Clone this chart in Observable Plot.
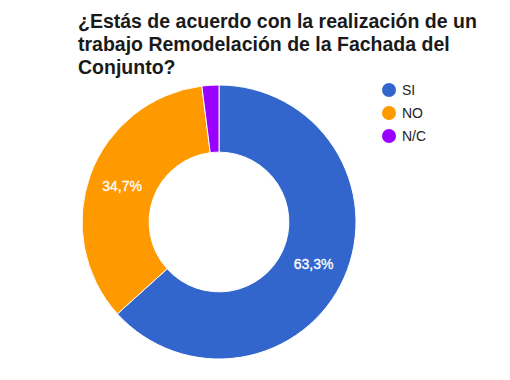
<!DOCTYPE html>
<html>
<head>
<meta charset="utf-8">
<script src="https://cdn.jsdelivr.net/npm/d3@7"></script>
<script src="https://cdn.jsdelivr.net/npm/@observablehq/plot@0.6"></script>
<style>
  body { margin: 0; background: #fff; }
  #wrap { position: relative; width: 510px; height: 380px; overflow: hidden; font-family: "Liberation Sans", Arial, sans-serif; }
  #title { position: absolute; left: 78px; top: 10px; font-weight: bold; font-size: 19.5px; line-height: 23px; color: #1a1a1a; white-space: nowrap; }
  #chart { position: absolute; left: 0; top: 75px; }
  #legend { position: absolute; left: 382px; top: 78px; font-size: 14px; color: #222; }
  .item { display: flex; align-items: center; height: 23px; }
  .sw { width: 14px; height: 14px; border-radius: 50%; margin-right: 6px; }
</style>
</head>
<body>
<div id="wrap">
  <div id="title">¿Estás de acuerdo con la realización de un<br>trabajo Remodelación de la Fachada del<br>Conjunto?</div>
  <div id="chart"></div>
  <div id="legend"></div>
</div>
<script>
const categories = ["SI", "NO", "N/C"];
const values = [63.3, 34.7, 2.0];
const colors = ["#3366cc", "#ff9900", "#9900ff"];

const data = categories.map((c, i) => ({category: c, value: values[i]}));
const arcs = d3.pie().sort(null).value(d => d.value)(data);
const innerFrac = 0.51;

const fmt = v => d3.format(".1f")(v).replace(".", ",") + "%";

function renderDonut(index, scales, values_, dimensions, context) {
  const cx = scales.x(0), cy = scales.y(0);
  const R = scales.x(1) - scales.x(0);
  const arcGen = d3.arc().innerRadius(R * innerFrac).outerRadius(R);
  const sel = Array.from(index, i => arcs[i]);
  const g = d3.create("svg:g").attr("transform", `translate(${cx},${cy})`);
  g.selectAll("path").data(sel).join("path")
    .attr("d", arcGen)
    .attr("fill", d => scales.color(d.data.category))
    .attr("stroke", "#fff")
    .attr("stroke-width", 1);
  g.selectAll("text").data(sel.filter(d => d.data.value >= 5)).join("text")
    .attr("transform", d => `translate(${arcGen.centroid(d)})`)
    .attr("text-anchor", "middle")
    .attr("dy", "0.35em")
    .attr("fill", "#fff")
    .attr("font-size", 14)
    .attr("stroke", "#fff")
    .attr("stroke-width", 0.3)
    .attr("font-family", "Liberation Sans, Arial, sans-serif")
    .text(d => fmt(d.data.value));
  return g.node();
}

const cxPx = 219, cyPx = 147, Rpx = 137;
const plot = Plot.plot({
  width: 510,
  height: 305,
  margin: 0,
  x: {domain: [-1, 1], range: [cxPx - Rpx, cxPx + Rpx], axis: null},
  y: {domain: [-1, 1], range: [cyPx + Rpx, cyPx - Rpx], axis: null},
  color: {domain: categories, range: colors},
  marks: [
    Plot.dot(data, {x: () => 0, y: () => 0, fill: "category", render: renderDonut})
  ]
});
document.getElementById("chart").appendChild(plot);

const legend = d3.select("#legend");
categories.forEach((c, i) => {
  const it = legend.append("div").attr("class", "item");
  it.append("div").attr("class", "sw").style("background", colors[i]);
  it.append("span").text(c);
});
</script>
</body>
</html>
